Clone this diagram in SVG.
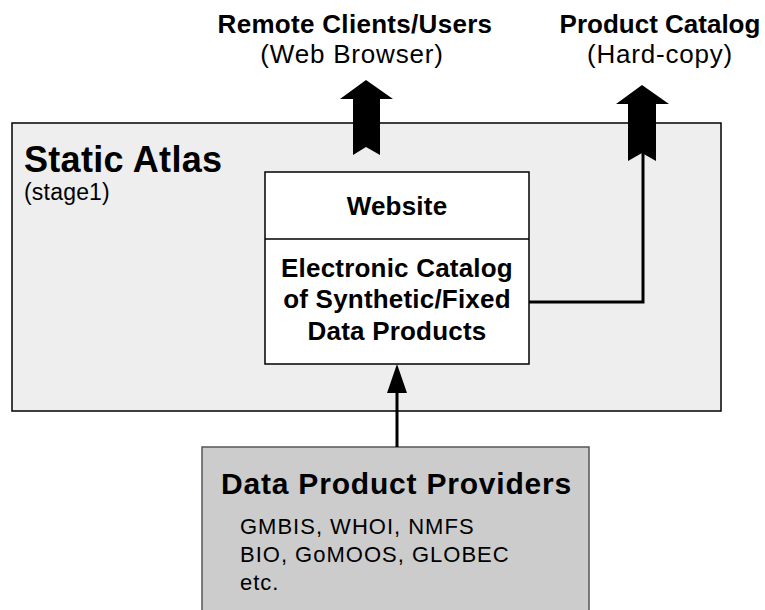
<svg xmlns="http://www.w3.org/2000/svg" width="765" height="610" viewBox="0 0 765 610">
<style>
text{font-family:"Liberation Sans",Arial,sans-serif;fill:#000}
.b{font-weight:bold}
.t{font-size:26px;letter-spacing:0.3px}
.s{font-size:26px;letter-spacing:0.8px}
.w{font-size:26px;letter-spacing:0.2px}
.box{stroke:#000;stroke-width:1.5}
.fat{fill:#000;stroke:none}
.ln{fill:none;stroke:#000;stroke-width:3}
.p{font-size:22px;letter-spacing:1px}
</style>
<rect width="765" height="610" fill="#fff"/>
<g id="remote">
<text class="b t" x="355" y="33" text-anchor="middle">Remote Clients/Users</text>
<text class="s" x="352" y="63" text-anchor="middle">(Web Browser)</text>
</g>
<g id="catalog">
<text class="b t" x="660" y="33" text-anchor="middle" style="letter-spacing:0px">Product Catalog</text>
<text class="s" x="660" y="63" text-anchor="middle">(Hard-copy)</text>
</g>
<g id="atlas">
<rect class="box" x="12" y="123" width="709" height="288" fill="#eeeeee"/>
<text class="b" x="24" y="172" style="font-size:36px;letter-spacing:0.3px">Static Atlas</text>
<text x="24" y="200" style="font-size:23px;letter-spacing:0.2px">(stage1)</text>
</g>
<g id="website">
<rect class="box" x="265" y="172" width="264" height="192" fill="#ffffff"/>
<line class="box" x1="265" y1="239" x2="529" y2="239"/>
<text class="b w" x="397" y="215" text-anchor="middle">Website</text>
<text class="b w" x="397" y="277" text-anchor="middle">Electronic Catalog</text>
<text class="b w" x="397" y="308" text-anchor="middle">of Synthetic/Fixed</text>
<text class="b w" x="397" y="340" text-anchor="middle">Data Products</text>
</g>
<g id="providers">
<rect x="202" y="447" width="387" height="175" fill="#cccccc" stroke="#555" stroke-width="1.5"/>
<text class="b" x="221" y="494" style="font-size:30px;letter-spacing:0.8px">Data Product Providers</text>
<text class="p" x="240" y="534">GMBIS, WHOI, NMFS</text>
<text class="p" x="240" y="562">BIO, GoMOOS, GLOBEC</text>
<text class="p" x="240" y="590">etc.</text>
</g>
<g id="connectors">
<polygon class="fat" points="366,80 393,99 380,99 380,155 366,147 353,155 353,99 340,99"/>
<polyline class="ln" points="529,302 643,302 643,150"/>
<polygon class="fat" points="642,85 669,104 656,104 656,161 642,153 628,161 628,104 616,104"/>
<line class="ln" x1="397" y1="447" x2="397" y2="390"/>
<polygon class="fat" points="397,364 407,393 387,393"/>
</g>
</svg>
